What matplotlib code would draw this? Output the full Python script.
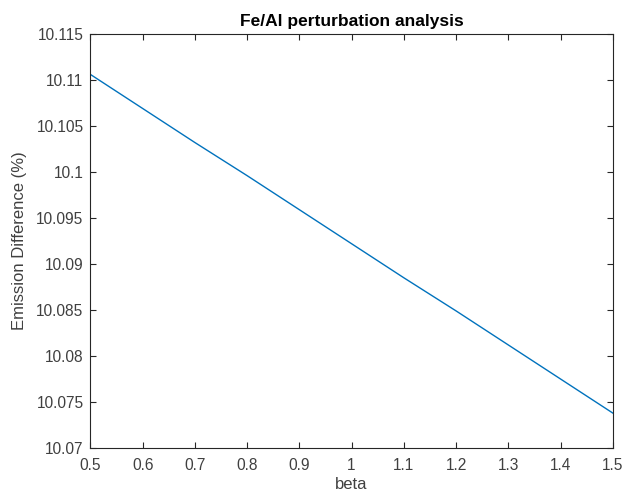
import numpy as np
import matplotlib.pyplot as plt

plt.rcParams['font.family'] = ['Liberation Sans', 'DejaVu Sans']

# beta values and emission difference read at each step
beta = [0.5, 0.6, 0.7, 0.8, 0.9, 1.0, 1.1, 1.2, 1.3, 1.4, 1.5]
emission_diff = [10.1106, 10.1069, 10.1032, 10.0996, 10.0959, 10.0922,
                 10.0885, 10.0849, 10.0812, 10.0775, 10.0738]

fig = plt.figure(figsize=(6.24, 4.97), dpi=100)
ax = fig.add_axes([0.145, 0.0986, 0.837, 0.833])

ax.plot(beta, emission_diff, color='#0072BD', linewidth=1.0)

ax.set_xlim(0.5, 1.5)
ax.set_ylim(10.07, 10.115)
ax.set_xticks(np.arange(0.5, 1.51, 0.1))
ax.set_xticklabels(['0.5', '0.6', '0.7', '0.8', '0.9', '1', '1.1', '1.2', '1.3', '1.4', '1.5'])
ax.set_yticks(np.arange(10.07, 10.1151, 0.005))
ax.set_yticklabels(['10.07', '10.075', '10.08', '10.085', '10.09', '10.095',
                    '10.1', '10.105', '10.11', '10.115'])

grey = '#262626'
for s in ax.spines.values():
    s.set_color(grey)
    s.set_linewidth(0.8)
ax.tick_params(direction='in', length=4.5, width=0.8, colors=grey,
               labelsize=11.2, top=True, right=True, pad=5)
ax.tick_params(axis='x', pad=7)
ax.tick_params(labelcolor='#404040')

ax.set_xlabel('beta', fontsize=12, color='#404040', labelpad=3)
ax.set_ylabel('Emission Difference (%)', fontsize=12, color='#404040', labelpad=7)
ax.set_title('Fe/Al perturbation analysis', fontsize=12.5, fontweight='bold', color='black', pad=6)

fig.savefig('out.png', dpi=100)
